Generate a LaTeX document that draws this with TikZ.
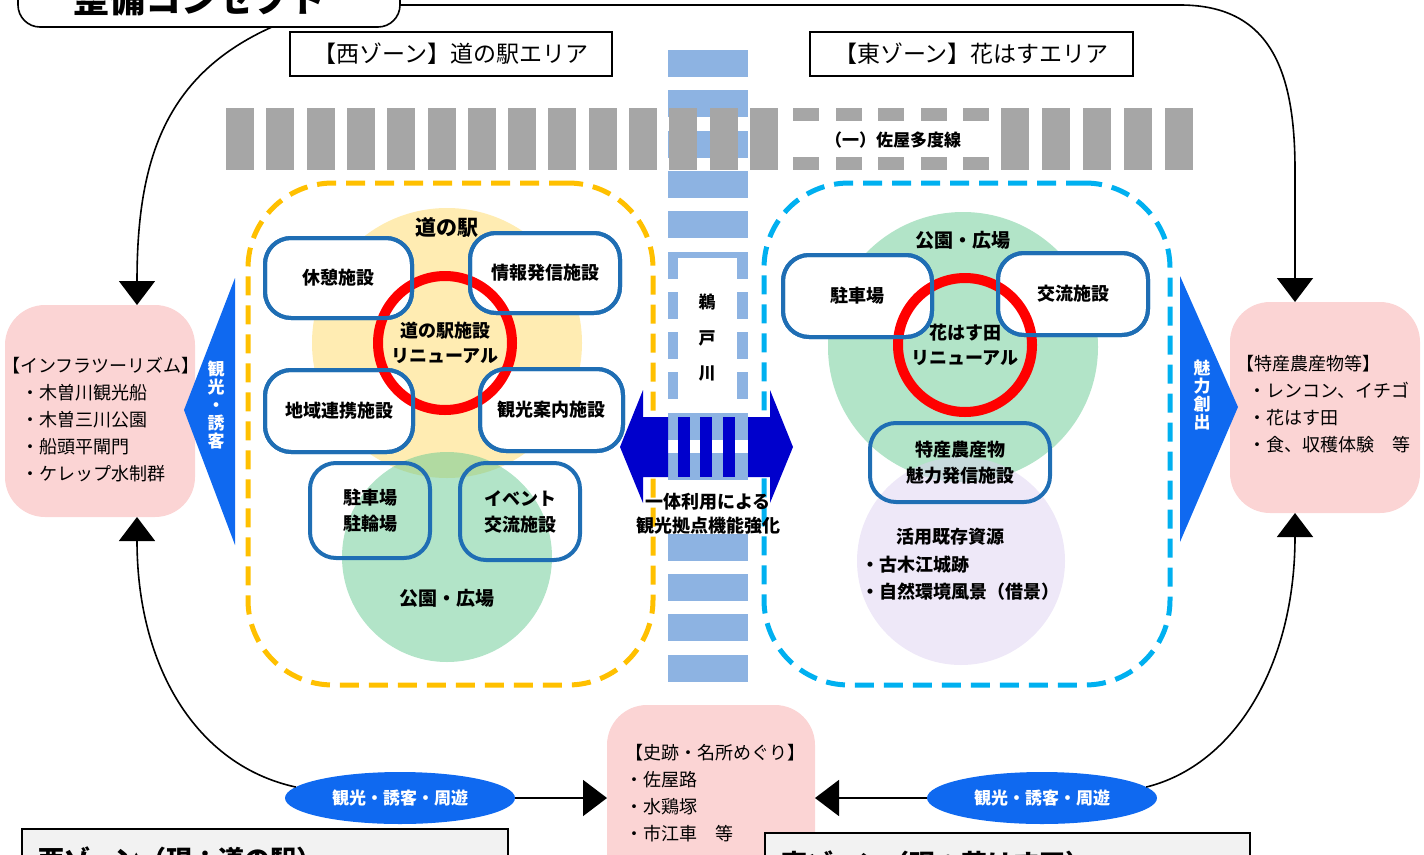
\documentclass[tikz,border=0pt]{standalone}
\usepackage{fontspec}
\setmainfont{Noto Sans CJK JP}
\usetikzlibrary{positioning, arrows.meta, shapes.geometric}

\definecolor{pinkfill}{RGB}{251,212,212}
\definecolor{zoneorange}{RGB}{255,192,0}
\definecolor{zoneblue}{RGB}{0,176,240}
\definecolor{facblue}{RGB}{31,110,180}
\definecolor{riverblue}{RGB}{141,179,226}
\definecolor{railgray}{RGB}{166,166,166}
\definecolor{brightblue}{RGB}{15,105,240}
\definecolor{darkblue}{RGB}{0,0,204}
\definecolor{stationyellow}{RGB}{255,217,102}
\definecolor{parkgreen}{RGB}{101,201,145}
\definecolor{resourcepurple}{RGB}{221,209,241}
\definecolor{ringred}{RGB}{255,0,0}
\definecolor{notegray}{RGB}{242,242,242}

\newcommand{\jsize}[2]{\fontsize{#1pt}{#2pt}\selectfont}

\begin{document}
\begin{tikzpicture}[
    x=1pt, y=-1pt,
    every node/.style={inner sep=0pt, outer sep=0pt},
    areatext/.style={align=center, font=\jsize{18}{25}\bfseries},
    facility/.style={draw=facblue, line width=4pt, rounded corners=26pt, align=center, font=\jsize{18}{26}\bfseries},
    facline/.style={draw=facblue, line width=4pt, rounded corners=26pt},
    area/.style={circle, fill opacity=0.5},
    ring/.style={circle, draw=ringred, line width=10pt, minimum size=134pt, align=center, font=\jsize{18}{25}\bfseries},
    zone/.style={line width=5pt, dash pattern=on 19pt off 10pt, rounded corners=85pt},
    header/.style={draw, line width=2.5pt, minimum height=44pt, font=\jsize{23}{23}},
    pinkbox/.style={fill=pinkfill, rounded corners=40pt},
    listtext/.style={align=left, font=\jsize{18}{27}},
    sidetext/.style={align=center, text=white, font=\jsize{17}{18}\bfseries},
    tour/.style={ellipse, fill=brightblue, text=white, minimum width=230pt, minimum height=52pt, font=\jsize{17}{17}\bfseries},
    flow/.style={line width=1.6pt, -{Triangle[length=24pt, width=36pt]}},
    notebox/.style={draw, fill=notegray, line width=2.5pt}
]
\useasboundingbox (0,0) rectangle (1424,854);
\clip (0,0) rectangle (1424,854);

% river and road
\foreach \k in {0,...,15}{
    \ifnum\k=11 \else
    \fill[riverblue] (668,{50+40.3*\k}) rectangle (748,{77+40.3*\k});
    \fi
}
\foreach \i in {0,...,13} \fill[railgray] ({226+40.3*\i},108) rectangle +(28,62);
\foreach \i in {0,...,4}{
    \fill[railgray] ({793+42.5*\i},108) rectangle +(26,13);
    \fill[railgray] ({793+42.5*\i},157) rectangle +(26,13);
}
\foreach \i in {0,...,4} \fill[railgray] ({1001+41*\i},108) rectangle +(28,62);
\node[font=\jsize{17}{17}\bfseries] (road) at (893,140) {（一）佐屋多度線};
\fill[white] (678,258) rectangle (737,405);
\node[align=center, font=\jsize{17}{35.5}\bfseries] (river) at (707,338) {鵜\\戸\\川};

% title and headers
\draw[fill=white, line width=1.6pt, rounded corners=22pt] (18,-50) rectangle (400,27);
\node[minimum width=382pt, minimum height=77pt] (concept) at (209,-11.5) {};
\node[font=\jsize{36}{36}\bfseries] (concepttext) at (199,-1) {整備コンセプト};
\node[header, minimum width=322pt] (westhead) at (451,54) {【西ゾーン】道の駅エリア};
\node[header, minimum width=323pt] (easthead) at (971.5,54) {【東ゾーン】花はすエリア};

% zones
\node[zone, draw=zoneorange, minimum width=405pt, minimum height=502pt] (westzone) at (450.5,434) {};
\node[zone, draw=zoneblue, minimum width=406pt, minimum height=502pt] (eastzone) at (967,434) {};

% west zone
\node[area, fill=stationyellow, minimum size=270pt] (stationarea) at (447,343) {};
\node[area, fill=parkgreen, minimum size=210pt] (parkwest) at (447,557) {};
\node[areatext, font=\jsize{21}{21}\bfseries] (stationlabel) at (447,228) {道の駅};
\node[areatext, font=\jsize{19}{19}\bfseries] (parkwestlabel) at (447,598) {公園・広場};

\node[facility, fill=white, minimum width=147pt, minimum height=80pt] (kyukei) at (338.5,278) {休憩施設};
\node[facility, fill=white, minimum width=150pt, minimum height=80pt] (joho) at (545,273) {情報発信施設};
\node[facility, fill=white, minimum width=148pt, minimum height=82pt] (chiiki) at (339,411) {地域連携施設};
\node[facility, fill=white, minimum width=143pt, minimum height=82pt] (kanko) at (551.5,410) {観光案内施設};
\node[ring] (stationring) at (445,343) {道の駅施設\\リニューアル};

\node[facility, minimum width=120pt, minimum height=95pt] (parking) at (370,510.5) {駐車場\\駐輪場};
\node[facility, minimum width=120pt, minimum height=97pt] (event) at (520,511.5) {イベント\\交流施設};

% east zone
\node[area, fill=parkgreen, minimum size=270pt] (parkeast) at (963,347) {};
\node[area, fill=resourcepurple, minimum size=208pt] (resource) at (961,561) {};
\node[areatext, font=\jsize{19}{19}\bfseries] (parkeastlabel) at (963,240) {公園・広場};

\node[facility, fill=white, minimum width=149pt, minimum height=82pt] (eparking) at (857.5,296) {駐車場};
\node[facility, fill=white, minimum width=150pt, minimum height=82pt] (koryu) at (1073,294) {交流施設};
\node[ring] (lotusring) at (965,345) {花はす田\\リニューアル};
\foreach \n in {kyukei,joho,chiiki,kanko,eparking,koryu}
    \draw[facline] (\n.south west) rectangle (\n.north east);

\node[facility, minimum width=180pt, minimum height=79pt] (tokusanbox) at (960,462.5) {特産農産物\\魅力発信施設};
\node[areatext] (resourcelabel) at (950,537) {活用既存資源};
\node[listtext, font=\jsize{18}{27}\bfseries, anchor=west] (resourcelist) at (861,578.5) {・古木江城跡\\・自然環境風景（借景）};

% bridge across the river
\fill[darkblue] (620,447) -- (643,390) -- (643,417) -- (668,417) -- (668,477) -- (643,477) -- (643,503) -- cycle;
\fill[darkblue] (793,447) -- (770,390) -- (770,417) -- (748,417) -- (748,477) -- (770,477) -- (770,503) -- cycle;
\foreach \x in {678,700,723} \fill[darkblue] (\x,417) rectangle +(12,60);
\node[areatext, font=\jsize{18}{24}\bfseries] (bridgetext) at (708,513.5) {一体利用による\\観光拠点機能強化};

% side areas
\node[pinkbox, minimum width=190pt, minimum height=212pt] (infra) at (100,411) {};
\node[listtext, anchor=west] (infratext) at (2,419.5) {【インフラツーリズム】\\\hspace*{1.1em}・木曽川観光船\\\hspace*{1.1em}・木曽三川公園\\\hspace*{1.1em}・船頭平閘門\\\hspace*{1.1em}・ケレップ水制群};
\fill[brightblue] (235,278) -- (235,545) -- (184,410) -- cycle;
\node[sidetext] (westside) at (216,405) {観\\光\\・\\誘\\客};

\node[pinkbox, minimum width=190pt, minimum height=211pt] (tokusan) at (1325,407.5) {};
\node[listtext, anchor=west] (tokusantext) at (1236,404) {【特産農産物等】\\\hspace*{0.7em}・レンコン、イチゴ\\\hspace*{0.7em}・花はす田\\\hspace*{0.7em}・食、収穫体験　等};
\fill[brightblue] (1180,276) -- (1180,542) -- (1238,407) -- cycle;
\node[sidetext] (eastside) at (1202,395) {魅\\力\\創\\出};

\node[pinkbox, minimum width=208pt, minimum height=190pt] (shiseki) at (711,800) {};
\node[listtext, anchor=west] (shisekitext) at (625,793) {【史跡・名所めぐり】\\・佐屋路\\・水鶏塚\\・市江車　等};

% tour loops
\node[tour] (kankoW) at (400,798) {観光・誘客・周遊};
\node[tour] (kankoE) at (1042,798) {観光・誘客・周遊};

\draw[flow] ([xshift=63pt]concept.south) .. controls (165,75) and (137,160) .. ([xshift=37pt]infra.north);
\draw[flow] (concept.east |- 0,5) -- (1180,5) .. controls (1270,5) and (1295,70) .. (1295,170) -- ([xshift=-30pt]tokusan.north);
\draw[flow] (kankoW.174) .. controls (195,765) and (137,665) .. ([xshift=37pt]infra.south);
\draw[flow] (kankoE.6) .. controls (1235,765) and (1295,665) .. ([xshift=-30pt]tokusan.south);
\draw[flow] (kankoW.east) -- (kankoW.east -| shiseki.west);
\draw[flow] (kankoE.west) -- (kankoE.west -| shiseki.east);

% zone notes
\draw[notebox] (22,829) rectangle (508,900);
\node[font=\jsize{26}{26}\bfseries, anchor=west] (westnote) at (38,859) {西ゾーン（現：道の駅）};
\draw[notebox] (765,833) rectangle (1250,900);
\node[font=\jsize{26}{26}\bfseries, anchor=west] (eastnote) at (781,863) {東ゾーン（現：花はす田）};
\end{tikzpicture}
\end{document}
